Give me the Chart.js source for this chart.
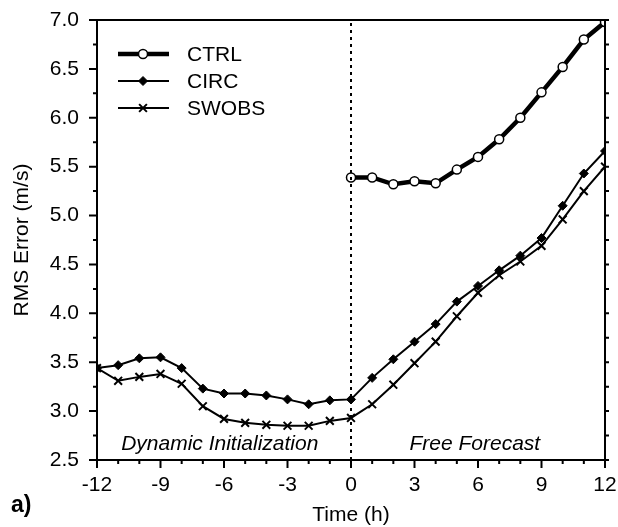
<!DOCTYPE html>
<html>
<head>
<meta charset="utf-8">
<script src="https://cdn.jsdelivr.net/npm/chart.js@4/dist/chart.umd.min.js"></script>
<style>
  html, body { margin: 0; padding: 0; background: #fff; }
  #wrap { width: 618px; height: 527px; }
</style>
</head>
<body>
<div id="wrap"><canvas id="rmsChart" width="618" height="527"></canvas></div>
<script>
// valores
const hoursInit = [-12, -11, -10, -9, -8, -7, -6, -5, -4, -3, -2, -1, 0];
const hoursFcst = [0, 1, 2, 3, 4, 5, 6, 7, 8, 9, 10, 11, 12];
const ctrlRms = [5.39, 5.39, 5.32, 5.35, 5.33, 5.47, 5.60, 5.78, 6.00, 6.26, 6.52, 6.80, 6.98];
const circRms = [3.44, 3.47, 3.54, 3.55, 3.44, 3.23, 3.18, 3.18, 3.16, 3.12, 3.07, 3.11, 3.12,
                 3.34, 3.53, 3.71, 3.89, 4.12, 4.28, 4.44, 4.59, 4.77, 5.10, 5.43, 5.66];
const swobsRms = [3.44, 3.31, 3.35, 3.38, 3.28, 3.05, 2.92, 2.88, 2.86, 2.85, 2.85, 2.90, 2.93,
                  3.07, 3.27, 3.49, 3.71, 3.97, 4.21, 4.39, 4.53, 4.69, 4.96, 5.25, 5.50];
const allHours = hoursInit.concat(hoursFcst.slice(1));
const xTicks = [-12, -9, -6, -3, 0, 3, 6, 9, 12];
const yTicks = [2.5, 3.0, 3.5, 4.0, 4.5, 5.0, 5.5, 6.0, 6.5, 7.0];
const seriesNames = ['CTRL', 'CIRC', 'SWOBS'];

const FONT = '"Liberation Sans", Arial, Helvetica, sans-serif';

const toXY = (xs, ys) => xs.map((x, i) => ({ x: x, y: ys[i] }));

// marco, marcas, linea punteada, textos y leyenda
const decoPlugin = {
  id: 'deco',
  afterDraw(chart) {
    const ctx = chart.ctx;
    const a = chart.chartArea;
    const xs = chart.scales.x;
    const ys = chart.scales.y;
    ctx.save();
    ctx.strokeStyle = '#000';
    ctx.lineWidth = 2;
    ctx.strokeRect(a.left, a.top, a.right - a.left, a.bottom - a.top);

    // marcas del eje x (abajo, hacia fuera)
    for (let h = -12; h <= 12; h++) {
      const px = xs.getPixelForValue(h);
      const len = h % 3 === 0 ? 8 : 4;
      ctx.beginPath();
      ctx.moveTo(px, a.bottom);
      ctx.lineTo(px, a.bottom + len);
      ctx.stroke();
    }
    // marcas del eje y (izquierda y derecha)
    for (let v = 2.5; v <= 7.001; v += 0.25) {
      const py = ys.getPixelForValue(v);
      const major = Math.abs(v * 2 - Math.round(v * 2)) < 1e-6;
      ctx.beginPath();
      ctx.moveTo(a.left, py);
      ctx.lineTo(a.left - (major ? 8 : 4), py);
      ctx.moveTo(a.right, py);
      ctx.lineTo(a.right + 4, py);
      ctx.stroke();
    }

    // linea vertical punteada en t = 0
    const x0 = xs.getPixelForValue(0);
    ctx.setLineDash([3, 4]);
    ctx.beginPath();
    ctx.moveTo(x0, a.bottom);
    ctx.lineTo(x0, a.top);
    ctx.stroke();
    ctx.setLineDash([]);

    // rotulos de periodo
    ctx.fillStyle = '#000';
    ctx.font = 'italic 21px ' + FONT;
    ctx.textAlign = 'center';
    ctx.textBaseline = 'middle';
    ctx.fillText('Dynamic Initialization', xs.getPixelForValue(-6.2), a.bottom - 16);
    ctx.fillText('Free Forecast', xs.getPixelForValue(5.85), a.bottom - 16);

    // etiqueta del panel
    ctx.font = 'bold 23px ' + FONT;
    ctx.textAlign = 'left';
    ctx.fillText('a)', 11, 506);

    // leyenda
    const sets = chart.data.datasets;
    const rowY = [54, 81, 108];
    for (let i = 0; i < 3; i++) {
      const ds = sets[i];
      const y = rowY[i];
      ctx.strokeStyle = '#000';
      ctx.lineWidth = ds.borderWidth;
      ctx.beginPath();
      ctx.moveTo(a.left + 21, y);
      ctx.lineTo(a.left + 72, y);
      ctx.stroke();
      ctx.fillStyle = ds.pointBackgroundColor;
      ctx.strokeStyle = '#000';
      ctx.lineWidth = ds.pointBorderWidth;
      Chart.helpers.drawPoint(ctx, {
        pointStyle: ds.pointStyle,
        radius: ds.pointRadius,
        borderWidth: ds.pointBorderWidth,
        rotation: 0
      }, a.left + 46, y);
      ctx.fillStyle = '#000';
      ctx.font = '21px ' + FONT;
      ctx.textAlign = 'left';
      ctx.fillText(seriesNames[i], a.left + 90, y + 1);
    }
    ctx.restore();
  }
};

new Chart(document.getElementById('rmsChart'), {
  type: 'line',
  data: {
    datasets: [
      {
        label: 'CTRL',
        data: toXY(hoursFcst, ctrlRms),
        borderColor: '#000',
        borderWidth: 4.5,
        pointStyle: 'circle',
        pointRadius: 4.5,
        pointBorderWidth: 1.5,
        pointBackgroundColor: '#fff',
        pointBorderColor: '#000',
        tension: 0
      },
      {
        label: 'CIRC',
        data: toXY(allHours, circRms),
        borderColor: '#000',
        borderWidth: 2,
        pointStyle: 'rectRot',
        pointRadius: 4.5,
        pointBorderWidth: 1,
        pointBackgroundColor: '#000',
        pointBorderColor: '#000',
        tension: 0
      },
      {
        label: 'SWOBS',
        data: toXY(allHours, swobsRms),
        borderColor: '#000',
        borderWidth: 2,
        pointStyle: 'crossRot',
        pointRadius: 5.5,
        pointBorderWidth: 2,
        pointBackgroundColor: '#000',
        pointBorderColor: '#000',
        tension: 0
      }
    ]
  },
  options: {
    responsive: false,
    animation: false,
    events: [],
    layout: { padding: { top: 20, right: 13, left: 0, bottom: 0 } },
    plugins: { legend: { display: false }, tooltip: { enabled: false } },
    scales: {
      x: {
        type: 'linear',
        min: -12,
        max: 12,
        afterFit: (s) => { s.height = 67; s.paddingLeft = 0; s.paddingRight = 0; },
        afterBuildTicks: (s) => { s.ticks = xTicks.map(v => ({ value: v })); },
        grid: { display: false },
        border: { display: false },
        ticks: {
          color: '#000',
          font: { family: FONT, size: 21 },
          padding: 5,
          maxRotation: 0,
          callback: (v) => String(v)
        },
        title: {
          display: true,
          text: 'Time (h)',
          color: '#000',
          font: { family: FONT, size: 21, lineHeight: 1.1 },
          padding: { top: 0, bottom: 0 }
        }
      },
      y: {
        type: 'linear',
        min: 2.5,
        max: 7.0,
        afterFit: (s) => { s.width = 97; s.paddingTop = 0; s.paddingBottom = 0; },
        afterBuildTicks: (s) => { s.ticks = yTicks.map(v => ({ value: v })); },
        grid: { display: false },
        border: { display: false },
        ticks: {
          color: '#000',
          font: { family: FONT, size: 21 },
          padding: 10,
          callback: (v) => Number(v).toFixed(1)
        },
        title: {
          display: true,
          text: 'RMS Error (m/s)',
          color: '#000',
          font: { family: FONT, size: 21 },
          padding: { top: 10, bottom: 0 }
        }
      }
    }
  },
  plugins: [decoPlugin]
});
</script>
</body>
</html>
